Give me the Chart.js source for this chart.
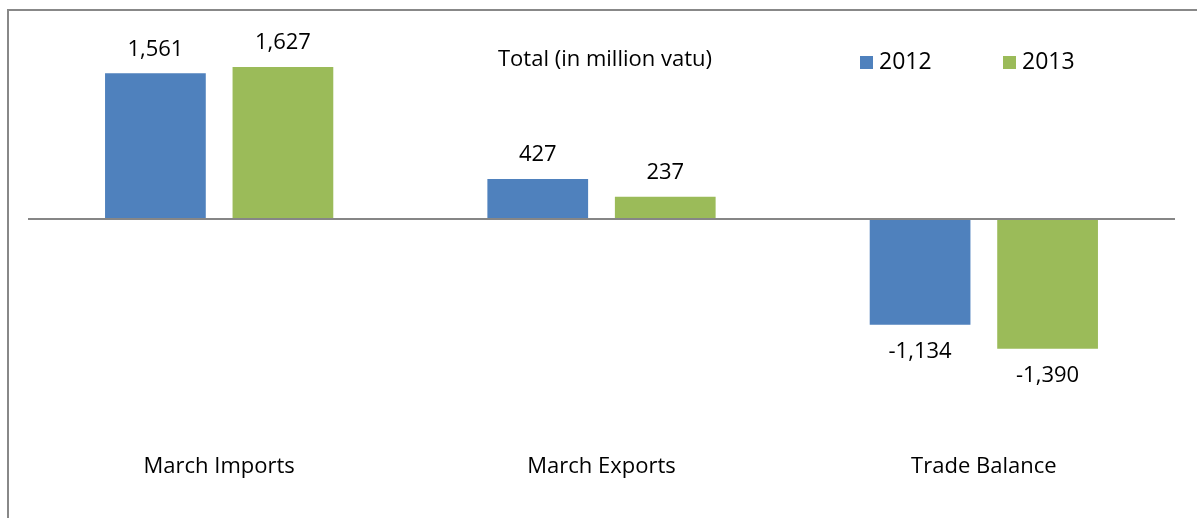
<!DOCTYPE html>
<html lang="en">
<head>
    <meta charset="UTF-8">
    <title>Trade totals</title>
    <script src="https://cdn.jsdelivr.net/npm/chart.js"></script>
    <style>
        body { margin: 0; padding: 0; background: #fff; overflow: hidden; }
        #frame {
            position: absolute;
            left: 7px;
            top: 9px;
            width: 1300px;
            height: 600px;
            border-left: 2px solid #888;
            border-top: 2px solid #888;
        }
        #chart-container { position: absolute; left: 0; top: 0; width: 1197px; height: 518px; }
    </style>
</head>
<body>

<div id="frame"></div>
<div id="chart-container">
    <canvas id="tradeChart"></canvas>
</div>

<script>
    // Chart values (million vatu)
    const categories = ['March Imports', 'March Exports', 'Trade Balance'];
    const values2012 = [1561, 427, -1134];
    const values2013 = [1627, 237, -1390];
    const seriesNames = ['2012', '2013'];
    const chartTitle = 'Total (in million vatu)';

    const FONT = '"Open Sans", sans-serif';
    const BLUE = '#4F81BD';
    const GREEN = '#9BBB59';

    // Data labels above / below the bars
    const valueLabels = {
        id: 'valueLabels',
        afterDatasetsDraw(chart) {
            const ctx = chart.ctx;
            ctx.save();
            ctx.font = '22px ' + FONT;
            ctx.fillStyle = '#000';
            ctx.textAlign = 'center';
            ctx.textBaseline = 'middle';
            chart.data.datasets.forEach((ds, i) => {
                chart.getDatasetMeta(i).data.forEach((bar, j) => {
                    const v = ds.data[j];
                    const y = v >= 0 ? bar.y - 24 : bar.y + 27;
                    ctx.fillText(v.toLocaleString('en-US'), bar.x, y);
                });
            });
            ctx.restore();
        }
    };

    // Title text and legend drawn in the upper right
    const headerBox = {
        id: 'headerBox',
        afterDraw(chart) {
            const ctx = chart.ctx;
            ctx.save();
            ctx.font = '22px ' + FONT;
            ctx.fillStyle = '#000';
            ctx.textBaseline = 'middle';
            ctx.textAlign = 'center';
            ctx.fillText(chartTitle, 605, 60);
            ctx.textAlign = 'left';
            const legendX = [860, 1003];
            chart.data.datasets.forEach((ds, i) => {
                ctx.fillStyle = ds.backgroundColor;
                ctx.fillRect(legendX[i], 56, 13, 13);
                ctx.fillStyle = '#000';
                ctx.font = '23px ' + FONT;
                ctx.fillText(ds.label, legendX[i] + 19, 62);
            });
            ctx.restore();
        }
    };

    const ctx = document.getElementById('tradeChart').getContext('2d');
    new Chart(ctx, {
        type: 'bar',
        data: {
            labels: categories,
            datasets: [
                { label: seriesNames[0], data: values2012, backgroundColor: BLUE },
                { label: seriesNames[1], data: values2013, backgroundColor: GREEN }
            ]
        },
        options: {
            responsive: true,
            maintainAspectRatio: false,
            animation: false,
            categoryPercentage: 0.667,
            barPercentage: 0.79,
            layout: { padding: { left: 28, right: 22, top: 22, bottom: 34 } },
            plugins: {
                legend: { display: false },
                tooltip: { enabled: false }
            },
            scales: {
                x: {
                    grid: { display: false },
                    border: { display: false },
                    ticks: { color: '#000', font: { family: FONT, size: 22 }, padding: 4 }
                },
                y: {
                    min: -2385,
                    max: 2110,
                    z: 1,
                    border: { display: false },
                    ticks: { display: false },
                    grid: {
                        drawTicks: false,
                        lineWidth: 2,
                        color: c => c.tick && c.tick.value === 0 ? '#868686' : 'rgba(0,0,0,0)'
                    },
                    afterBuildTicks: axis => { axis.ticks = [{ value: 0 }]; }
                }
            }
        },
        plugins: [valueLabels, headerBox]
    });
</script>

</body>
</html>
